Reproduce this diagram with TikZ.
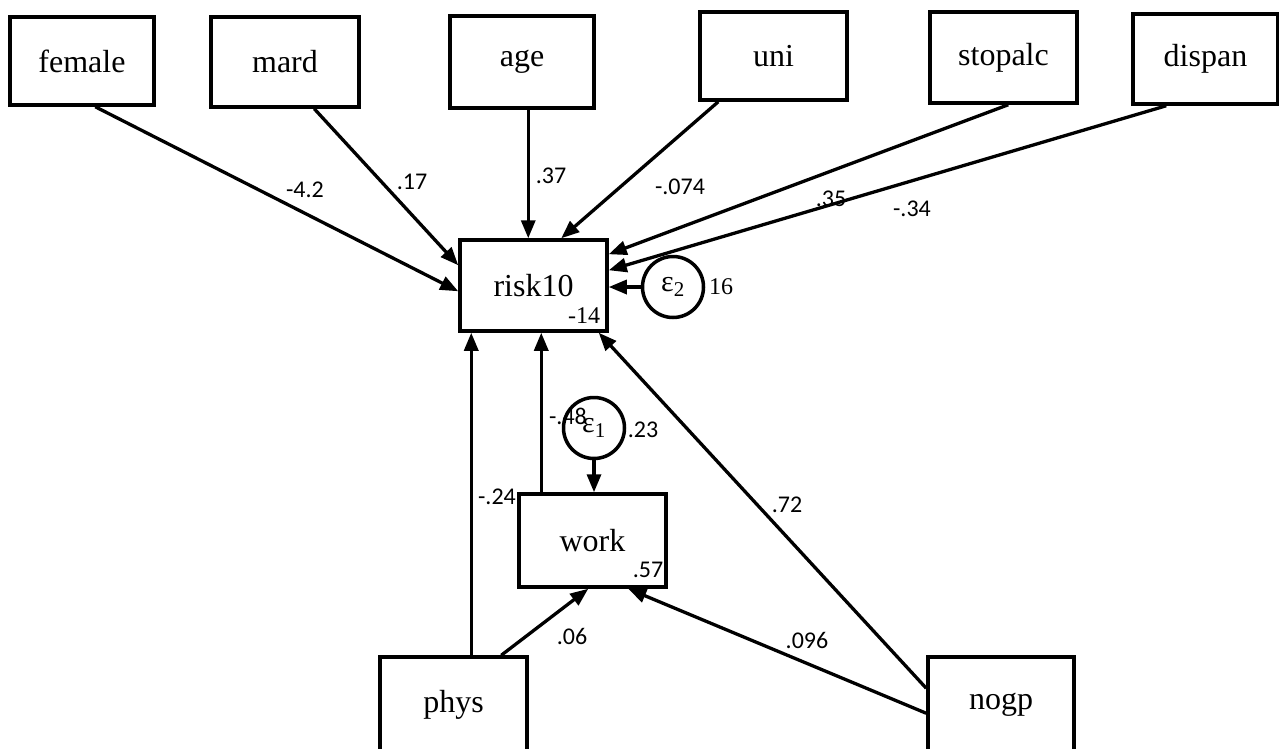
\documentclass[tikz,border=0pt]{standalone}
\usepackage{fontspec}
\setmainfont{Liberation Serif}
\newfontfamily\numfont{Carlito}
\usetikzlibrary{arrows.meta,calc}
\begin{document}
\begin{tikzpicture}[x=1pt,y=-1pt,
  varbox/.style={draw,line width=3.5pt,minimum width=#1,inner sep=0pt,font=\fontsize{32}{34}\selectfont},
  errc/.style={draw,circle,line width=3.5pt,minimum size=61pt,inner sep=0pt,font=\fontsize{30}{32}\selectfont},
  path/.style={line width=3.3pt,-{Triangle[length=18pt,width=14pt]}},
  coef/.style={font=\numfont\fontsize{24}{26}\selectfont,inner sep=0pt},
  coefs/.style={font=\fontsize{24}{26}\selectfont,inner sep=0pt}]
\useasboundingbox (0,0) rectangle (1279,748);
\node[varbox=144pt,minimum height=88pt] (female) at (82,61) {female};
\node[varbox=148pt,minimum height=90pt] (mard) at (285,62) {mard};
\node[varbox=144pt,minimum height=92pt] (age) at (522,62) {age};
\node[varbox=147pt,minimum height=88pt] (uni) at (773.5,56) {uni};
\node[varbox=147pt,minimum height=91pt] (stopalc) at (1003.5,57.5) {stopalc};
\node[varbox=145pt,minimum height=90pt] (dispan) at (1205.5,59) {dispan};
\node[varbox=147pt,minimum height=91pt] (risk10) at (533.5,285.5) {risk10};
\node[varbox=147pt,minimum height=93pt] (work) at (592.5,540.5) {work};
\node[varbox=147pt,minimum height=95pt] (phys) at (453.5,704.5) {phys};
\node[varbox=146pt,minimum height=95pt] (nogp) at (1001,704.5) {nogp};
\node[errc] (e2) at (673,287) {ε\textsubscript{2}};
\node[errc] (e1) at (594,428) {ε\textsubscript{1}};
% paths into risk10
\draw[path] ($(female.south west)+(87,0)$) -- ($(risk10.north west)+(0,53)$);
\draw[path] ($(mard.south west)+(105,0)$) -- ($(risk10.north west)+(0,27)$);
\draw[path] ($(age.south west)+(80,0)$) -- ($(risk10.north west)+(70,0)$);
\draw[path] ($(uni.south west)+(20,0)$) -- ($(risk10.north west)+(103,0)$);
\draw[path] ($(stopalc.south west)+(80,0)$) -- ($(risk10.north east)+(0,16)$);
\draw[path] ($(dispan.south west)+(35,0)$) -- ($(risk10.north east)+(0,32)$);
\draw[path] (e2.west) -- (e2.west -| risk10.east);
\draw[path] ($(phys.north west)+(93,0)$) -- ($(risk10.south west)+(13,0)$);
\draw[path] ($(work.north west)+(24,0)$) -- ($(risk10.south west)+(83,0)$);
\draw[path] ($(nogp.north west)+(0,33)$) -- ($(risk10.south east)+(-10,0)$);
% paths into work
\draw[path] ($(phys.north west)+(123,0)$) -- ($(work.south west)+(71,0)$);
\draw[path] ($(nogp.north west)+(0,58)$) -- ($(work.south west)+(111,0)$);
\draw[path] (e1.south) -- (e1.south |- work.north);
% labels
\node[coef] (l1) at (305,190) {-4.2};
\node[coef] (l2) at (412,182) {.17};
\node[coef] (l3) at (551,176) {.37};
\node[coef] (l4) at (680,187) {-.074};
\node[coef] (l5) at (831,199) {.35};
\node[coef] (l6) at (912,209) {-.34};
\node[coefs] (l7) at (721,287) {16};
\node[coefs] (l8) at (584,316) {-14};
\node[coef] (l9) at (568,416) {-.48};
\node[coef] (l10) at (643,430) {.23};
\node[coef] (l11) at (497,497) {-.24};
\node[coef] (l12) at (648,570) {.57};
\node[coef] (l13) at (787,505) {.72};
\node[coef] (l14) at (572,636) {.06};
\node[coef] (l15) at (807,640) {.096};
\end{tikzpicture}
\end{document}
